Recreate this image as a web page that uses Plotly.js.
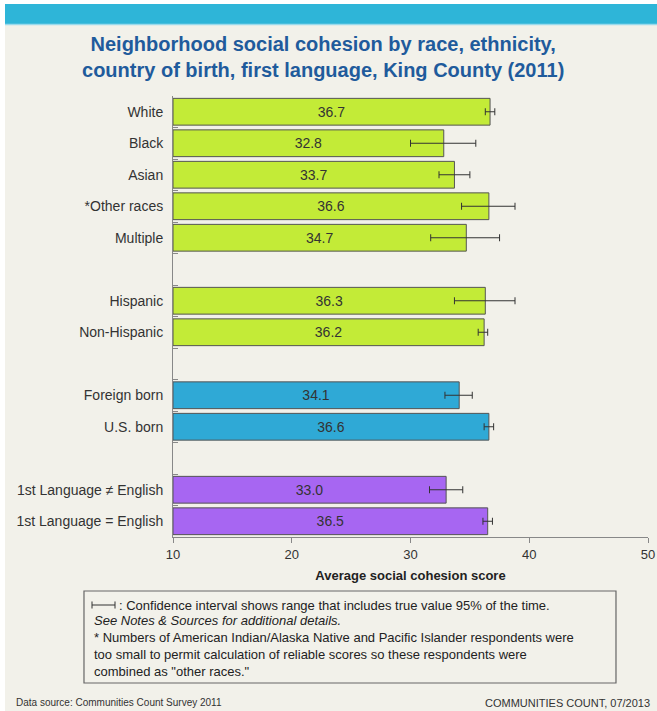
<!DOCTYPE html>
<html>
<head>
<meta charset="utf-8">
<script src="https://cdn.plot.ly/plotly-3.0.1.min.js"></script>
<style>
  html, body { margin: 0; padding: 0; background: #ffffff; }
  #chart { position: absolute; left: 5px; top: 4px; width: 652px; height: 707px; }
</style>
</head>
<body>
<div id="chart"></div>
<script>
// ---- Data ----
const raceCats   = ["White", "Black", "Asian", "*Other races", "Multiple", "Hispanic", "Non-Hispanic"];
const raceVals   = [36.7, 32.8, 33.7, 36.6, 34.7, 36.3, 36.2];
const raceLow    = [36.3, 30.0, 32.4, 34.3, 31.7, 33.7, 35.7];
const raceHigh   = [37.1, 35.5, 35.0, 38.8, 37.5, 38.8, 36.5];

const birthCats  = ["Foreign born", "U.S. born"];
const birthVals  = [34.1, 36.6];
const birthLow   = [32.9, 36.2];
const birthHigh  = [35.2, 37.0];

const langCats   = ["1st Language \u2260 English", "1st Language = English"];
const langVals   = [33.0, 36.5];
const langLow    = [31.6, 36.1];
const langHigh   = [34.4, 36.9];

const categoryOrder = ["White", "Black", "Asian", "*Other races", "Multiple", " ",
  "Hispanic", "Non-Hispanic", "  ", "Foreign born", "U.S. born", "   ",
  "1st Language \u2260 English", "1st Language = English"];

const xTickVals = [10, 20, 30, 40, 50];
const axisStart = 10;

// ---- Helpers ----
function mkTrace(cats, vals, lo, hi, color) {
  return {
    type: "bar", orientation: "h",
    y: cats,
    base: axisStart,
    x: vals.map(v => +(v - axisStart).toFixed(3)),
    width: 0.85,
    marker: { color: color, line: { color: "#555555", width: 1 } },
    text: vals.map(v => v.toFixed(1)),
    textposition: "inside", insidetextanchor: "middle",
    constraintext: "none",
    textfont: { family: "Arial, 'Liberation Sans', sans-serif", size: 14, color: "#333333" },
    error_x: {
      type: "data", symmetric: false,
      array: hi.map((h, i) => +(h - vals[i]).toFixed(3)),
      arrayminus: lo.map((l, i) => +(vals[i] - l).toFixed(3)),
      color: "#333333", thickness: 1, width: 3.5
    },
    hoverinfo: "skip", showlegend: false
  };
}

const traces = [
  mkTrace(raceCats, raceVals, raceLow, raceHigh, "#C3EB37"),
  mkTrace(birthCats, birthVals, birthLow, birthHigh, "#2FA9D6"),
  mkTrace(langCats, langVals, langLow, langHigh, "#A766F2")
];

const F = "Arial, 'Liberation Sans', sans-serif";

const layout = {
  width: 652, height: 707,
  paper_bgcolor: "#F2F1EA", plot_bgcolor: "rgba(0,0,0,0)",
  margin: { l: 168, r: 9, t: 92, b: 174 },
  barmode: "overlay",
  title: {
    text: "<b>Neighborhood social cohesion by race, ethnicity,<br>country of birth, first language, King County (2011)</b>",
    font: { family: F, size: 20, color: "#1F5B9C" },
    x: 0.488, xref: "container", xanchor: "center",
    y: 0.934, yref: "container", yanchor: "top"
  },
  xaxis: {
    range: [10, 50], tickvals: xTickVals, ticktext: xTickVals.map(String),
    showgrid: false, zeroline: false,
    showline: true, linecolor: "#888888", linewidth: 1,
    ticks: "outside", ticklen: 5, tickcolor: "#888888",
    tickfont: { family: F, size: 13, color: "#333333" },
    title: { text: "<b>Average social cohesion score</b>", font: { family: F, size: 13, color: "#222222" }, standoff: 10 },
    fixedrange: true
  },
  yaxis: {
    type: "category", categoryorder: "array", categoryarray: categoryOrder,
    range: [13.5, -0.5],
    showgrid: false, zeroline: false,
    showline: true, linecolor: "#888888", linewidth: 1,
    ticks: "inside", ticklen: 5, tickcolor: "#888888", tickson: "boundaries",
    tickfont: { family: F, size: 14, color: "#333333" },
    ticklabelstandoff: 6,
    fixedrange: true
  },
  shapes: [
    // top banner
    { type: "rect", xref: "paper", yref: "paper", x0: -0.36, x1: 1.03, y0: 1.1633, y1: 1.22,
      fillcolor: "#2EB5D8", line: { width: 0 } },
    { type: "line", xref: "paper", yref: "paper", x0: -0.36, x1: 1.03, y0: 1.1622, y1: 1.1622,
      line: { color: "#9ADAEC", width: 1.5 } },
    // notes box
    { type: "rect", xref: "paper", yref: "paper", x0: -0.1874, x1: 0.9326, y0: -0.1224, y1: -0.3311,
      fillcolor: "rgba(0,0,0,0)", line: { color: "#666666", width: 1.2 } },
    // CI glyph
    { type: "line", xref: "paper", yref: "paper", x0: -0.1705, x1: -0.1221, y0: -0.1542, y1: -0.1542,
      line: { color: "#333333", width: 1 } },
    { type: "line", xref: "paper", yref: "paper", x0: -0.1705, x1: -0.1705, y0: -0.1462, y1: -0.1622,
      line: { color: "#333333", width: 1 } },
    { type: "line", xref: "paper", yref: "paper", x0: -0.1221, x1: -0.1221, y0: -0.1462, y1: -0.1622,
      line: { color: "#333333", width: 1 } }
  ],
  annotations: [
    { xref: "paper", yref: "paper", x: -0.118, y: -0.1542, xanchor: "left", yanchor: "middle",
      showarrow: false, align: "left",
      text: ": Confidence interval shows range that includes true value 95% of the time.",
      font: { family: F, size: 13, color: "#222222" } },
    { xref: "paper", yref: "paper", x: -0.1705, y: -0.168, xanchor: "left", yanchor: "top",
      showarrow: false, align: "left",
      text: "<i>See Notes & Sources for additional details.</i><br>* Numbers of American Indian/Alaska Native and Pacific Islander respondents were<br>too small to permit calculation of reliable scores so these respondents were<br>combined as \"other races.\"",
      font: { family: F, size: 13, color: "#222222" } },
    { xref: "paper", yref: "paper", x: -0.3347, y: -0.3764, xanchor: "left", yanchor: "middle",
      showarrow: false, text: "Data source: Communities Count Survey 2011",
      font: { family: F, size: 10, color: "#333333" } },
    { xref: "paper", yref: "paper", x: 1.0084, y: -0.3764, xanchor: "right", yanchor: "middle",
      showarrow: false, text: "COMMUNITIES COUNT, 07/2013",
      font: { family: F, size: 11, color: "#333333" } }
  ]
};

Plotly.newPlot("chart", traces, layout, { displayModeBar: false, staticPlot: true });
</script>
</body>
</html>
